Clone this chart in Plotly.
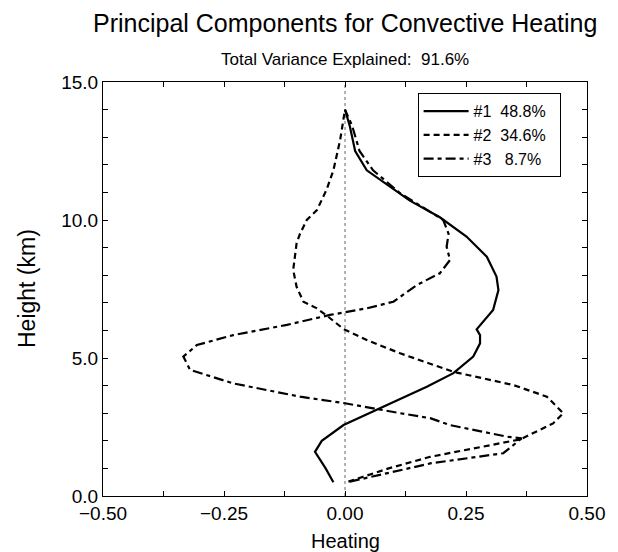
import plotly.graph_objects as go

# ---- data ----
pc1_height = [0.5, 1.0, 1.6, 2.0, 2.57, 3.18, 3.96, 4.45, 5.05, 5.53, 5.83, 6.04, 6.74, 7.46, 7.95, 8.67, 9.4, 10.1, 10.7, 11.8, 12.5, 13.4, 14.0]
pc1_heat = [-0.024, -0.040, -0.062, -0.048, -0.003, 0.072, 0.169, 0.224, 0.265, 0.279, 0.279, 0.272, 0.306, 0.317, 0.313, 0.293, 0.251, 0.196, 0.134, 0.045, 0.021, 0.010, 0.0]

pc2_height = [0.52, 1.0, 1.42, 2.05, 2.63, 3.0, 3.6, 4.02, 4.5, 5.17, 5.65, 6.05, 6.5, 6.8, 7.04, 7.58, 8.19, 9.16, 9.5, 10.0, 10.36, 11.1, 11.8, 12.9, 14.0]
pc2_heat = [0.007, 0.090, 0.176, 0.362, 0.430, 0.451, 0.417, 0.348, 0.224, 0.114, 0.045, -0.003, -0.035, -0.058, -0.086, -0.100, -0.107, -0.100, -0.093, -0.079, -0.058, -0.038, -0.024, -0.010, 0.0]

pc3_height = [0.52, 1.18, 1.55, 2.09, 2.15, 2.57, 2.82, 3.0, 3.36, 3.6, 4.08, 4.57, 5.05, 5.47, 5.83, 6.2, 6.56, 6.8, 7.04, 7.64, 8.07, 8.55, 9.03, 9.5, 10.0, 10.97, 11.8, 12.5, 13.4, 14.0]
pc3_heat = [0.010, 0.176, 0.327, 0.365, 0.334, 0.217, 0.176, 0.114, 0.000, -0.093, -0.231, -0.320, -0.334, -0.306, -0.231, -0.120, -0.031, 0.045, 0.100, 0.148, 0.196, 0.217, 0.210, 0.214, 0.203, 0.114, 0.058, 0.030, 0.015, 0.0]

series_names = ["#1\u00a0\u00a048.8%\u00a0\u00a0", "#2\u00a0\u00a034.6%\u00a0\u00a0", "#3\u00a0\u00a0\u00a08.7%\u00a0\u00a0"]
title_text = "Principal Components for Convective Heating"
subtitle_text = "Total Variance Explained:\u00a0\u00a091.6%"
x_ticks = [-0.5, -0.25, 0.0, 0.25, 0.5]
y_ticks = [0.0, 5.0, 10.0, 15.0]

FONT = "Liberation Sans, Arial, sans-serif"

fig = go.Figure()

# zero reference line
fig.add_trace(go.Scatter(x=[0, 0], y=[0, 15], mode="lines",
                         line=dict(color="#666666", width=1, dash="dot"),
                         showlegend=False, hoverinfo="skip"))

fig.add_trace(go.Scatter(x=pc1_heat, y=pc1_height, mode="lines", name=series_names[0],
                         line=dict(color="black", width=2.2, dash="solid")))
fig.add_trace(go.Scatter(x=pc2_heat, y=pc2_height, mode="lines", name=series_names[1],
                         line=dict(color="black", width=2.2, dash="6px,4px")))
fig.add_trace(go.Scatter(x=pc3_heat, y=pc3_height, mode="lines", name=series_names[2],
                         line=dict(color="black", width=2.2, dash="10px,4px,4px,4px")))

axis_common = dict(showline=True, linecolor="black", linewidth=1, mirror="ticks",
                   ticks="inside", ticklen=5, tickcolor="black", tickwidth=1,
                   showgrid=False, zeroline=False,
                   tickfont=dict(family=FONT, size=19, color="black"))

fig.update_xaxes(range=[-0.5, 0.5], tickvals=x_ticks, tickformat=".2f",
                 minor=dict(dtick=0.125, ticks="inside", ticklen=5, tickcolor="black", showgrid=False),
                 **axis_common)
fig.update_yaxes(range=[0, 15], tickvals=y_ticks, tickformat=".1f",
                 minor=dict(dtick=1, ticks="inside", ticklen=5, tickcolor="black", showgrid=False),
                 **axis_common)

fig.update_layout(
    width=618, height=552,
    margin=dict(l=103, r=31, t=82, b=56),
    paper_bgcolor="white", plot_bgcolor="white",
    font=dict(family=FONT, color="black"),
    showlegend=True,
    legend=dict(x=0.650, y=0.973, xanchor="left", yanchor="top",
                bgcolor="white", bordercolor="black", borderwidth=1,
                font=dict(family=FONT, size=16, color="black"),
                itemwidth=45, tracegroupgap=0),
    annotations=[
        dict(text=title_text, x=0.5, xref="paper", y=23, yref="paper", showarrow=False,
             font=dict(family=FONT, size=25, color="black")),
        dict(text=subtitle_text, x=0.5, xref="paper", y=60, yref="paper", showarrow=False,
             font=dict(family=FONT, size=17, color="black")),
        dict(text="Heating", x=0.5, xref="paper", y=541, yref="paper", showarrow=False,
             font=dict(family=FONT, size=20, color="black")),
        dict(text="Height (km)", x=27, xref="paper", y=289, yref="paper", showarrow=False,
             textangle=-90, font=dict(family=FONT, size=23, color="black")),
    ],
)

# convert pixel positions of annotations into paper coordinates
plot_l, plot_t, plot_w, plot_h = 103, 82, 484, 414
new_ann = []
for a in fig.layout.annotations:
    a = a.to_plotly_json()
    a["y"] = 1 - (a["y"] - plot_t) / plot_h
    if a["text"] == "Height (km)":
        a["x"] = (a["x"] - plot_l) / plot_w
    a["yanchor"] = "middle"
    a["xanchor"] = "center"
    new_ann.append(a)
fig.layout.annotations = new_ann

fig.write_html("out.html")
